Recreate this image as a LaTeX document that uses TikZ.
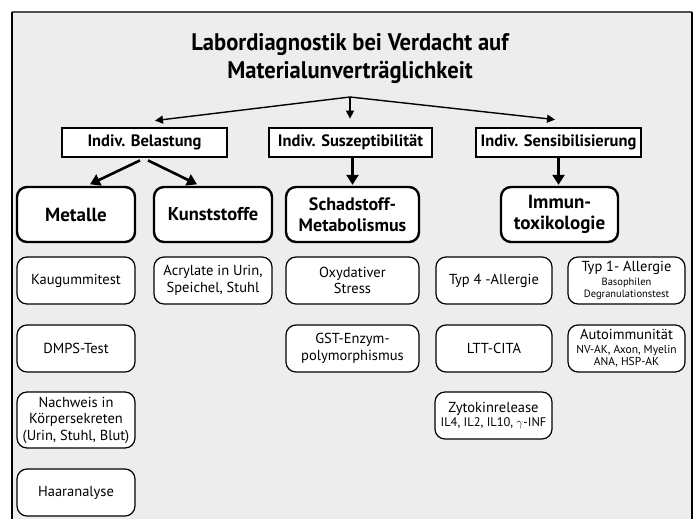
\documentclass[tikz,border=0pt]{standalone}
\usepackage{fontspec}
\setmainfont{PT Sans}
\newfontfamily\condfont[FakeStretch=0.94]{PT Sans}
\usetikzlibrary{arrows.meta,calc}
\definecolor{panelbg}{RGB}{237,237,237}
\definecolor{topline}{RGB}{80,80,80}
\begin{document}
\begin{tikzpicture}[x=1pt,y=-1pt,
  hdr/.style={draw, line width=2.8pt, fill=white, minimum height=29pt, inner sep=0pt,
    font=\bfseries\fontsize{16.5}{18}\selectfont},
  bigbox/.style={draw, line width=2.4pt, rounded corners=10pt, fill=white, minimum height=55pt,
    minimum width=118pt, inner sep=0pt, align=center, font=\bfseries\fontsize{19}{21}\selectfont},
  smallbox/.style={draw, line width=1.2pt, rounded corners=10pt, fill=white, minimum height=47pt,
    minimum width=118pt, inner sep=0pt, align=center, font=\fontsize{14.5}{16.5}\selectfont},
  thinarrow/.style={line width=1.4pt, -{Triangle[length=8pt,width=8pt]}},
  thickarrow/.style={line width=2.6pt, -{Triangle[length=10pt,width=12pt]}},
  titletxt/.style={align=center, font=\condfont\bfseries\fontsize{24}{28}\selectfont}
]
\useasboundingbox (0,0) rectangle (695,519);
% panel
\fill[panelbg] (12,12) rectangle (692,519);
\draw[topline, line width=1.6pt] (12,12) -- (692,12);
\draw[black, line width=1.4pt] (12,12) -- (12,519);
\draw[black, line width=2pt] (692,12) -- (692,519);

% title
\node[titletxt] (title) at (350,59) {Labordiagnostik bei Verdacht auf\\Materialunverträglichkeit};
\coordinate (apex) at (350,97);

% header boxes
\node[hdr, minimum width=165pt] (bel) at (144.5,142.5) {Indiv. Belastung};
\node[hdr, minimum width=163pt] (sus) at (350.5,142.5) {Indiv. Suszeptibilität};
\node[hdr, minimum width=165pt] (sen) at (558.5,142.5) {Indiv. Sensibilisierung};

% big boxes
\node[bigbox] (met) at (76,214.5) {Metalle};
\node[bigbox, font=\bfseries\fontsize{18.5}{21}\selectfont] (kun) at (213,214.5) {Kunststoffe};
\node[bigbox, minimum width=133pt, font=\bfseries\fontsize{18}{21}\selectfont] (sch) at (352.5,214.5) {Schadstoff-\\Metabolismus};
\node[bigbox, minimum width=117pt] (imm) at (559.5,214.5) {Immun-\\toxikologie};

% row 2
\node[smallbox] (kau) at (76,280.5) {Kaugummitest};
\node[smallbox] (acr) at (213,280.5) {Acrylate in Urin,\\Speichel, Stuhl};
\node[smallbox, minimum width=133pt] (oxy) at (352.5,280.5) {Oxydativer\\Stress};
\node[smallbox, minimum width=116pt] (typ4) at (494,280.5) {Typ 4 -Allergie};
\node[smallbox, minimum width=117pt] (typ1) at (626.5,280.5) {Typ 1- Allergie\\[-3pt]{\fontsize{10.5}{11}\selectfont Basophilen}\\[-4pt]{\fontsize{10.5}{11}\selectfont Degranulationstest}};

% row 3
\node[smallbox] (dmps) at (76,348.5) {DMPS-Test};
\node[smallbox, minimum width=133pt] (gst) at (352.5,348.5) {GST-Enzym-\\polymorphismus};
\node[smallbox, minimum width=116pt] (ltt) at (494,348.5) {LTT-CITA};
\node[smallbox, minimum width=117pt] (auto) at (626.5,348.5) {Autoimmunität\\[-3pt]{\fontsize{11.5}{12}\selectfont NV-AK, Axon, Myelin}\\[-4pt]{\fontsize{11.5}{12}\selectfont ANA, HSP-AK}};

% row 4
\node[smallbox, minimum height=56pt] (nach) at (76,420) {Nachweis in\\Körpersekreten\\(Urin, Stuhl, Blut)};
\node[smallbox, minimum width=117pt] (zyt) at (493.5,415.5) {Zytokinrelease\\[-2pt]{\fontsize{12.5}{13}\selectfont IL4, IL2, IL10, $\gamma$-INF}};
\node[smallbox] (haar) at (76,492.5) {Haaranalyse};

% arrows
\draw[thinarrow] (apex) -- ($(bel.north)+(10.5,-6)$);
\draw[thinarrow] (apex) -- ($(sen.north)+(-3.5,-7)$);
\draw[thinarrow] (apex) -- ($(sus.north)+(-0.5,-8)$);
\draw[thickarrow] ($(bel.south)+(-4.5,2)$) -- ($(met.north)+(14,-1.5)$);
\draw[thickarrow] ($(bel.south)+(3.5,2)$) -- ($(kun.north)+(-16,-1.5)$);
\draw[thickarrow] (sch.north |- sus.south) -- ($(sch.north)+(0,-1)$);
\draw[thickarrow] (sen.south) -- ($(sen.south |- imm.north)+(0,-1)$);
\end{tikzpicture}
\end{document}
